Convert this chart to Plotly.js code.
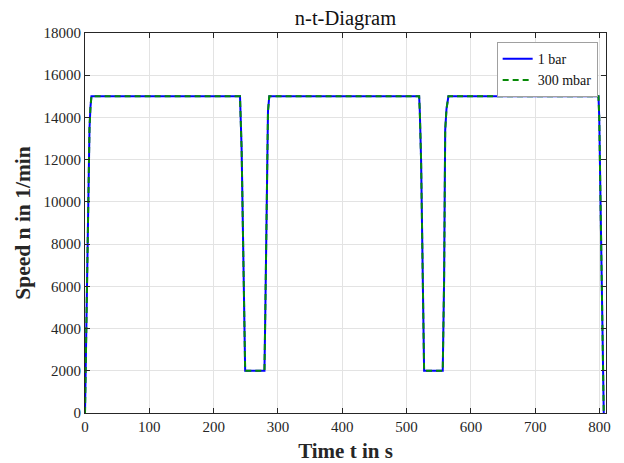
<!DOCTYPE html>
<html>
<head>
<meta charset="utf-8">
<script src="https://cdn.plot.ly/plotly-3.0.1.min.js"></script>
<style>html,body{margin:0;padding:0;background:#fff;}</style>
</head>
<body>
<div id="chart" style="width:624px;height:463px;"></div>
<script>
// Time in s
var timeBar = [0, 2, 5, 7, 8.5, 10, 241, 242, 243.5, 249, 279, 280.3, 283, 284.5, 286.5, 519.5, 520.5, 522.5, 527.2, 556.2, 558.3, 560, 562, 565, 798.3, 799.5, 801, 806.5];
// Speed in 1/min, 1 bar
var speedBar = [0, 4000, 10000, 13500, 14500, 15000, 15000, 14300, 12500, 2000, 2000, 4700, 12600, 14300, 15000, 15000, 14300, 12000, 2000, 2000, 6300, 13400, 14400, 15000, 15000, 14000, 11000, 0];
// Time in s
var timeMbar = [0, 2, 5, 7, 8.5, 10, 241, 242, 243.5, 249, 279, 280.3, 283, 284.5, 286.5, 519.5, 520.5, 522.5, 527.2, 556.2, 558.3, 560, 562, 565, 798.3, 799.5, 801, 806.5];
// Speed in 1/min, 300 mbar
var speedMbar = [0, 4000, 10000, 13500, 14500, 15000, 15000, 14300, 12500, 2000, 2000, 4700, 12600, 14300, 15000, 15000, 14300, 12000, 2000, 2000, 6300, 13400, 14400, 15000, 15000, 14000, 11000, 0];
var seriesNames = ["1 bar", "300 mbar"];
var xTicks = [0, 100, 200, 300, 400, 500, 600, 700, 800];
var yTicks = [0, 2000, 4000, 6000, 8000, 10000, 12000, 14000, 16000, 18000];

var serif = "Liberation Serif, Times New Roman, serif";
var traces = [
  {x: timeBar, y: speedBar, name: seriesNames[0], mode: "lines", line: {color: "#0000ff", width: 2}},
  {x: timeMbar, y: speedMbar, name: seriesNames[1], mode: "lines", line: {color: "#078a07", width: 2, dash: "6px,4px"}}
];
var axisCommon = {
  showline: true, linecolor: "#262626", linewidth: 1, mirror: "ticks",
  ticks: "inside", ticklen: 5, tickcolor: "#262626", tickwidth: 1,
  showgrid: true, gridcolor: "#e3e3e3", gridwidth: 1, zeroline: false,
  tickfont: {family: serif, size: 15, color: "#262626"}
};
var layout = {
  width: 624, height: 463,
  margin: {l: 85, r: 18, t: 33, b: 50},
  paper_bgcolor: "#ffffff", plot_bgcolor: "#ffffff",
  title: {text: "n-t-Diagram", font: {family: serif, size: 20.5, color: "#111"}, xref: "paper", x: 0.5, xanchor: "center", y: 0.978, yanchor: "top"},
  xaxis: Object.assign({}, axisCommon, {range: [0, 810], tickvals: xTicks, ticktext: xTicks.map(String),
    title: {text: "<b>Time t in s</b>", font: {family: serif, size: 21, color: "#262626"}, standoff: 9}}),
  yaxis: Object.assign({}, axisCommon, {range: [0, 18000], tickvals: yTicks, ticktext: yTicks.map(String),
    title: {text: "<b>Speed n in 1/min</b>", font: {family: serif, size: 21.5, color: "#262626"}, standoff: 6}}),
  showlegend: true,
  legend: {x: 0.984, xanchor: "right", y: 0.976, yanchor: "top", bgcolor: "#ffffff",
    bordercolor: "#a0a0a0", borderwidth: 1, font: {family: serif, size: 14, color: "#111"},
    tracegroupgap: 0, itemwidth: 30}
};
Plotly.newPlot("chart", traces, layout, {displayModeBar: false, staticPlot: true});
</script>
</body>
</html>
